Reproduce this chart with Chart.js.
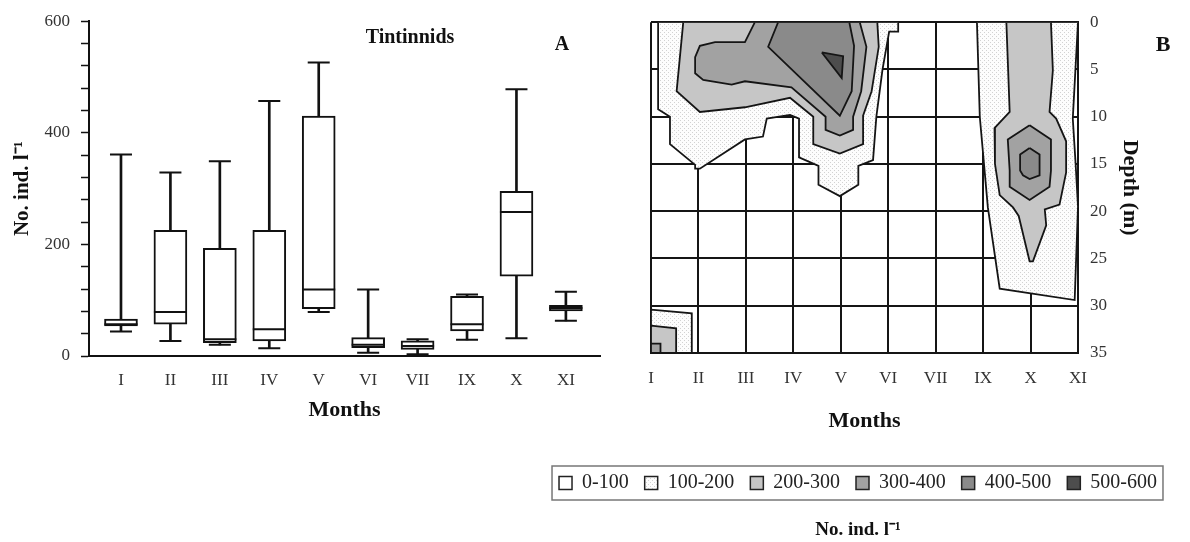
<!DOCTYPE html>
<html><head><meta charset="utf-8">
<script src="https://cdn.jsdelivr.net/npm/chart.js@4.4.1/dist/chart.umd.min.js"></script>
<style>
html,body{margin:0;padding:0;background:#fff;}
body{width:1190px;height:542px;position:relative;overflow:hidden;}
#ca{position:absolute;left:0;top:0;}
#cb{position:absolute;left:536px;top:0;}
</style></head><body>
<canvas id="ca" width="610" height="440"></canvas>
<canvas id="cb" width="644" height="542"></canvas>
<script>
// ---------- data ----------
const months = ['I','II','III','IV','V','VI','VII','IX','X','XI'];
const boxMax    = [361, 329, 349, 457, 526, 119, 30, 110, 478, 115];
const boxQ3     = [66, 225, 193, 225, 430, 33, 27, 107, 295, 91];
const boxMedian = [57, 79, 30, 48, 119, 20, 18, 57, 258, 86];
const boxQ1     = [54, 57, 24, 27, 85, 15, 12, 45, 143, 81];
const boxMin    = [44, 27, 20, 14, 79, 6, 3, 29, 32, 63];
const yTickValues = [0,40,80,120,160,200,240,280,320,360,400,440,480,520,560,600];
const yTickLabels = [0,200,400,600];
const depthTicks = [0,5,10,15,20,25,30,35];

const levelNames = ['0-100','100-200','200-300','300-400','400-500','500-600'];

// contour polygons: [month index, depth (m)]
const spring100 = [[0.15,0],[0.15,9.2],[0.4,10],[0.4,12.9],[0.93,15.1],[0.93,15.5],[1.03,15.5],[1.98,12.4],[2.36,12.1],[2.44,10.2],[2.93,9.8],[3.12,10.2],[3.12,14.3],[3.53,15.2],[3.53,17.2],[3.98,18.4],[4.37,17.2],[4.37,15.2],[4.68,14.6],[4.75,10],[4.88,5],[5.02,1.0],[5.21,1.0],[5.21,0]];
const spring200 = [[0.68,0],[0.54,7.3],[1.03,9.5],[1.98,9.0],[2.93,8.0],[3.42,10],[3.42,12.9],[3.98,13.9],[4.47,12.9],[4.47,9.9],[4.65,7.3],[4.8,2.6],[4.77,0]];
const spring300 = [[2.19,0],[1.98,2.1],[1.35,2.1],[1.03,2.5],[0.93,3.7],[0.93,5.4],[1.1,6.1],[1.7,6.6],[1.98,6.25],[2.96,6.9],[3.68,10],[3.68,11.4],[3.98,12],[4.26,11.4],[4.26,10],[4.43,7.3],[4.54,2.6],[4.4,0]];
const spring400 = [[2.68,0],[2.47,2.6],[3.98,9.9],[4.23,7.3],[4.28,2.5],[4.18,0]];
const spring500 = [[3.6,3.2],[4.05,3.6],[4.02,5.9]];
const winter100 = [[0,30.4],[0.86,30.8],[0.86,35],[0,35]];
const winter200 = [[0,32.1],[0.53,32.4],[0.53,35],[0,35]];
const winter300 = [[0,34],[0.2,34],[0.2,35],[0,35]];
const autumn100 = [[6.87,0],[6.93,10],[7.1,19.6],[7.35,28.2],[8.93,29.4],[9.0,19.5],[8.95,15],[8.89,10.2],[9.0,0]];
const autumn200 = [[7.49,0],[7.56,9.5],[7.24,11.2],[7.25,15],[7.35,18.3],[7.63,19.6],[7.75,20.5],[7.98,25.3],[8.05,25.3],[8.33,21.5],[8.3,19.8],[8.61,19.3],[8.75,15.9],[8.75,12.6],[8.54,10.2],[8.4,9.5],[8.47,5.1],[8.43,0]];
const autumn300 = [[7.98,10.9],[7.52,12.4],[7.56,15.7],[7.56,17.4],[7.98,18.8],[8.4,17.4],[8.43,15.7],[8.43,12.4]];
const autumn400 = [[7.98,13.3],[7.78,14.0],[7.78,15.7],[7.84,16.2],[7.98,16.6],[8.19,16.2],[8.19,14.0]];

const contourShapes = [
  {pts: spring100, level: 1}, {pts: winter100, level: 1}, {pts: autumn100, level: 1},
  {pts: spring200, level: 2}, {pts: winter200, level: 2}, {pts: autumn200, level: 2},
  {pts: spring300, level: 3}, {pts: winter300, level: 3}, {pts: autumn300, level: 3},
  {pts: spring400, level: 4}, {pts: autumn400, level: 4},
  {pts: spring500, level: 5}
];

// ---------- styles ----------
const SERIF = "'Liberation Serif','Times New Roman',serif";
Chart.defaults.font.family = SERIF;

function makeStipple(){
  const c = document.createElement('canvas'); c.width = 4; c.height = 4;
  const g = c.getContext('2d');
  g.fillStyle = '#fdfdfd'; g.fillRect(0,0,4,4);
  g.fillStyle = '#d2d2d2'; g.fillRect(0,0,1,1); g.fillRect(2,2,1,1);
  return g.createPattern(c, 'repeat');
}
const levelFill = ['#ffffff', makeStipple(), '#c6c6c6', '#a2a2a2', '#8a8a8a', '#4d4d4d'];

const panelText = {
  id: 'panelText',
  afterDraw(chart, args, opts){
    const ctx = chart.ctx; ctx.save();
    (opts.items || []).forEach(it => {
      ctx.font = it.font; ctx.fillStyle = it.color || '#111';
      ctx.textAlign = 'center'; ctx.textBaseline = 'middle';
      ctx.fillText(it.text, it.x, it.y);
    });
    if (opts.legendFrame && chart.legend && chart.legend.legendHitBoxes && chart.legend.legendHitBoxes.length) {
      const hb = chart.legend.legendHitBoxes;
      const x0 = Math.min(...hb.map(h => h.left)) - 7;
      const x1 = Math.max(...hb.map(h => h.left + h.width)) + 6;
      const yc = hb[0].top + hb[0].height / 2;
      ctx.strokeStyle = '#777'; ctx.lineWidth = 1.5;
      ctx.strokeRect(x0, yc - 17, x1 - x0, 34);
    }
    ctx.restore();
  }
};

const idx = months.map((m, i) => i);

// ---------- Panel A : box plot ----------
new Chart(document.getElementById('ca'), {
  type: 'bar',
  data: { datasets: [
    { type: 'bar', label: 'range', data: idx.map(i => ({x: i, y: [boxMin[i], boxMax[i]]})),
      backgroundColor: '#111', borderWidth: 0, barThickness: 2, grouped: false, order: 3 },
    { type: 'bar', label: 'quartiles', data: idx.map(i => ({x: i, y: [boxQ1[i], boxQ3[i]]})),
      backgroundColor: '#fff', borderColor: '#111', borderWidth: 2, borderSkipped: false,
      barThickness: 33, grouped: false, order: 2 },
    { type: 'line', label: 'median', data: idx.map(i => ({x: i, y: boxMedian[i]})), showLine: false,
      pointStyle: 'line', pointRadius: 16.5, pointBorderWidth: 2, pointBorderColor: '#111', order: 1 },
    { type: 'line', label: 'max', data: idx.map(i => ({x: i, y: boxMax[i]})), showLine: false,
      pointStyle: 'line', pointRadius: 11, pointBorderWidth: 2, pointBorderColor: '#111', order: 1 },
    { type: 'line', label: 'min', data: idx.map(i => ({x: i, y: boxMin[i]})), showLine: false,
      pointStyle: 'line', pointRadius: 11, pointBorderWidth: 2, pointBorderColor: '#111', order: 1 }
  ]},
  plugins: [panelText],
  options: {
    responsive: false, animation: false, events: [],
    layout: { autoPadding: false, padding: { top: 20, right: 10, left: 0, bottom: 0 } },
    plugins: {
      legend: { display: false }, tooltip: { enabled: false },
      panelText: { items: [
        { text: 'Tintinnids', x: 410, y: 38, font: "bold 20px " + SERIF },
        { text: 'A', x: 562, y: 45, font: "bold 20px " + SERIF }
      ]}
    },
    scales: {
      x: { type: 'linear', min: -0.647, max: 9.69, offset: false,
        afterBuildTicks: s => { s.ticks = idx.map(v => ({value: v})); },
        ticks: { callback: v => months[v] ?? '', font: { size: 17 }, color: '#333', padding: 14, maxRotation: 0, autoSkip: false },
        grid: { display: false, drawTicks: false },
        border: { display: true, color: '#111', width: 2 },
        title: { display: true, text: 'Months', color: '#111', font: { size: 22, weight: 'bold' }, padding: { top: 0, bottom: 16 } },
        afterFit: s => { s.height = 84; }
      },
      y: { type: 'linear', min: 0, max: 600,
        afterBuildTicks: s => { s.ticks = yTickValues.map(v => ({value: v})); },
        ticks: { callback: v => yTickLabels.includes(v) ? String(v) : '', font: { size: 17 }, color: '#333', padding: 11, autoSkip: false },
        grid: { drawOnChartArea: false, drawTicks: true, tickLength: 8, tickColor: '#111', tickWidth: 1.5 },
        border: { display: true, color: '#111', width: 2 },
        title: { display: true, text: 'No. ind. l⁻¹', color: '#111', font: { size: 21, weight: 'bold' }, padding: { top: 10 } },
        afterFit: s => { s.width = 89; }
      }
    }
  }
});

// ---------- Panel B : depth contour ----------
new Chart(document.getElementById('cb'), {
  type: 'line',
  data: { datasets: contourShapes.map(s => ({
    label: levelNames[s.level],
    data: s.pts.concat([s.pts[0]]).map(p => ({x: p[0], y: p[1]})),
    xAxisID: 'x', yAxisID: 'y',
    fill: 'shape', backgroundColor: levelFill[s.level],
    borderColor: '#151515', borderWidth: 1.8, pointRadius: 0, tension: 0,
    order: 20 - s.level
  }))},
  plugins: [panelText],
  options: {
    responsive: false, animation: false, events: [],
    layout: { autoPadding: false, padding: { top: 12, right: 0, left: 0, bottom: 0 } },
    plugins: {
      tooltip: { enabled: false },
      legend: { display: true, position: 'bottom',
        labels: {
          font: { size: 20 }, color: '#222', boxWidth: 13, boxHeight: 13, padding: 16,
          generateLabels: () => levelNames.map((t, i) => ({
            text: t, fillStyle: levelFill[i], strokeStyle: '#222', lineWidth: 1.5, hidden: false, index: i, fontColor: '#222'
          }))
        }
      },
      title: { display: true, position: 'bottom', text: 'No. ind. l⁻¹', color: '#111',
        font: { size: 19, weight: 'bold' }, padding: { top: 15.6, bottom: 0.6 } },
      panelText: { legendFrame: true, items: [
        { text: 'B', x: 627, y: 45, font: "bold 22px " + SERIF }
      ]}
    },
    scales: {
      yL: { type: 'linear', position: 'left', display: true,
        ticks: { display: false }, grid: { display: false }, border: { display: false },
        afterFit: s => { s.width = 115; } },
      x: { type: 'linear', min: 0, max: 9, z: 1,
        afterBuildTicks: s => { s.ticks = idx.map(v => ({value: v})); },
        ticks: { callback: v => months[v] ?? '', font: { size: 17 }, color: '#333', padding: 15, maxRotation: 0, autoSkip: false },
        grid: { color: '#151515', lineWidth: 2, drawTicks: false },
        border: { display: true, color: '#151515', width: 2 },
        title: { display: true, text: 'Months', color: '#111', font: { size: 22, weight: 'bold' }, padding: { top: 0, bottom: 22 } },
        afterFit: s => { s.height = 104; }
      },
      y: { type: 'linear', position: 'right', reverse: true, min: 0, max: 35, z: 1,
        afterBuildTicks: s => { s.ticks = depthTicks.map(v => ({value: v})); },
        ticks: { font: { size: 17 }, color: '#333', padding: 12, autoSkip: false },
        grid: { color: '#151515', lineWidth: 2, drawTicks: false },
        border: { display: true, color: '#151515', width: 2 },
        title: { display: true, text: 'Depth (m)', color: '#111', font: { size: 22, weight: 'bold' }, padding: { top: 37 } },
        afterFit: s => { s.width = 102; }
      }
    }
  }
});
</script>
</body></html>
